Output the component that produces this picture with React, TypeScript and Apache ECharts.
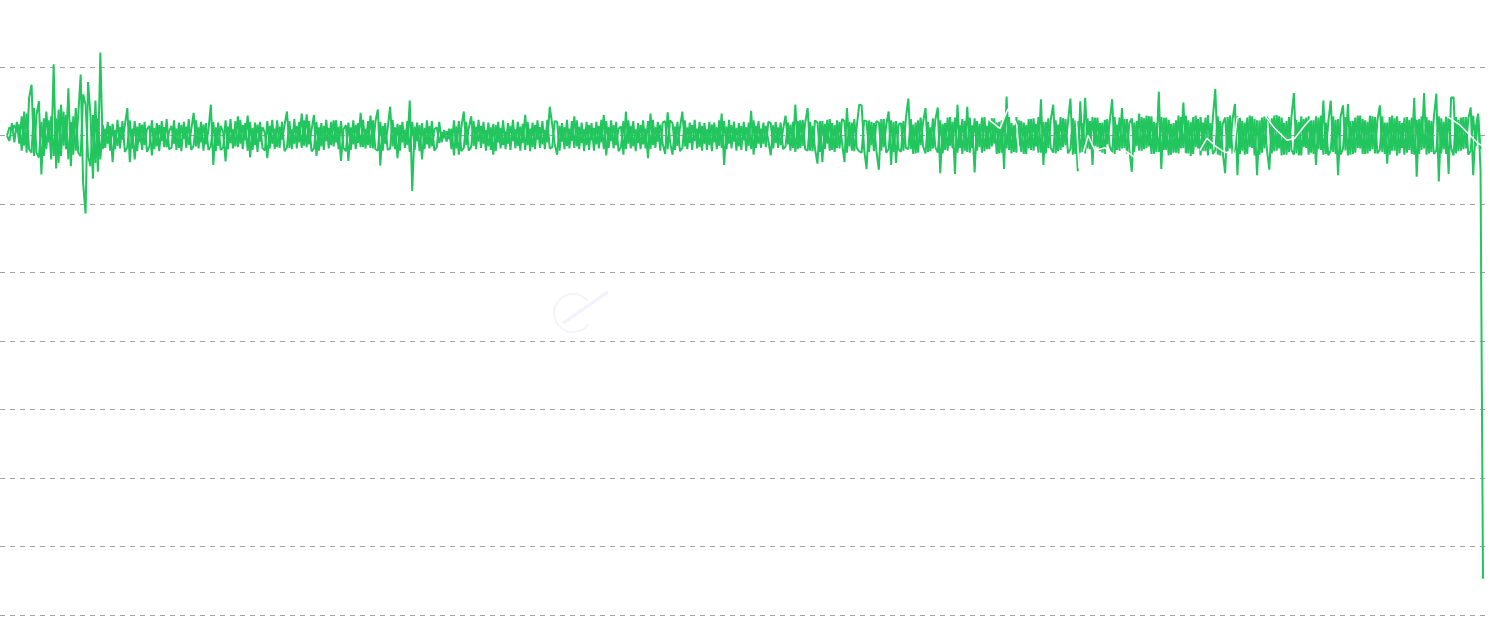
import React, { useEffect, useRef } from "react";
import * as echarts from "echarts";

// Green series, read segment by segment from left to right.
// segX = one trace of each step, segXb = the opposite swing read at the same step.
const segA = [
  0.0, 0.12, 0.08, 0.15, 0.05, 0.16, -0.22, 0.35, -0.25, 0.55,
  0.74, -0.3, 0.3, 0.5, -0.57, 0.25, -0.2, 0.22, -0.35, 1.04,
  -0.48, 0.38, -0.3, 0.35, -0.2, 0.69, -0.45, 0.28, -0.22, 0.3,
  0.89, -0.7, -1.14, 0.78, 0.3, -0.63, 0.51, -0.53, 1.21, -0.2,
];
const segAb = [
  0.0, -0.08, 0.18, -0.1, 0.2, -0.12, 0.28, -0.15, 0.32, -0.2,
  -0.25, 0.4, -0.25, -0.32, 0.2, -0.3, 0.35, -0.1, 0.28, -0.3,
  0.25, -0.4, 0.45, -0.15, 0.3, -0.35, 0.2, -0.28, 0.4, -0.25,
  -0.3, 0.6, 0.45, -0.3, -0.45, 0.3, -0.4, 0.25, -0.35, 0.15,
];
const segB = [
  0.1, -0.12, 0.14, -0.39, 0.08, -0.15, 0.12, -0.06, 0.15, 0.4,
  -0.39, 0.1, -0.35, 0.13, -0.1, 0.16, -0.14, 0.09, 0.14, -0.29,
  0.11, -0.16, 0.15, -0.08, 0.12, -0.17, 0.06, 0.14, -0.12, 0.1,
  -0.18, 0.15, -0.05, 0.13, -0.14, 0.08, 0.33, -0.16, 0.12, -0.1,
  0.16, -0.13, 0.07, 0.45, -0.43, 0.12, -0.15, 0.14, 0.05, -0.38,
  0.13, -0.11, 0.09, -0.16, 0.28, -0.12, 0.15, -0.07, 0.29, -0.32,
  0.11, -0.14, 0.16, -0.09, 0.12, 0.04, -0.33, 0.14, -0.12, 0.1,
  -0.17, 0.13, -0.06, 0.15, 0.35, -0.18, 0.09, -0.12, 0.14, -0.1,
  0.32, -0.15, 0.31, -0.13, 0.08, 0.3, -0.3, 0.12, -0.16, 0.14,
  -0.08, 0.11, -0.14, 0.22, -0.1, 0.13, -0.37, 0.09, 0.15, -0.37,
  0.12, -0.13, 0.16, -0.11, 0.33, -0.17, 0.1, -0.14, 0.29, -0.19,
  0.2, 0.38,
];
const segBb = [
  -0.18, 0.2, -0.22, 0.17, -0.2, 0.23, -0.19, 0.21, -0.24, -0.17,
  0.22, -0.19, 0.21, -0.23, 0.18, -0.21, 0.2, -0.24, -0.16, 0.22,
  -0.2, 0.18, -0.23, 0.21, -0.17, 0.24, -0.2, -0.18, 0.22, -0.21,
  0.19, -0.23, 0.2, -0.18, 0.24, -0.21, -0.15, 0.22, -0.19, 0.2,
  -0.22, 0.18, -0.21, -0.16, 0.2, -0.23, 0.19, -0.21, -0.18, 0.22,
  -0.2, 0.24, -0.19, 0.21, -0.17, 0.23, -0.2, 0.18, -0.22, 0.2,
  -0.21, 0.19, -0.24, 0.2, -0.18, -0.22, 0.21, -0.19, 0.23, -0.2,
  0.22, -0.18, 0.2, -0.23, -0.17, 0.21, -0.2, 0.24, -0.19, 0.2,
  -0.18, 0.22, -0.17, 0.21, -0.23, -0.19, 0.2, -0.22, 0.18, -0.21,
  0.23, -0.19, 0.2, -0.16, 0.22, -0.2, 0.21, -0.18, -0.23, 0.19,
  -0.21, 0.22, -0.2, 0.18, -0.17, 0.23, -0.19, 0.21, -0.18, 0.22,
  -0.2, -0.22,
];
const segC = [
  -0.44, 0.14, -0.12, 0.1, 0.42, -0.16, 0.12, -0.33, 0.15, -0.1,
  0.08, -0.14, 0.51, -0.81, 0.13, -0.08, 0.15, -0.35, 0.11, -0.13,
  0.14, -0.16, 0.09, 0.12, -0.11, 0.05, -0.04, 0.06, -0.05, 0.1,
  -0.29, 0.13, -0.28, 0.12, 0.35, -0.14, 0.1, 0.28, -0.15, 0.13,
  -0.09, 0.14, -0.12, 0.08, -0.16, 0.12, -0.28, 0.15, -0.1, 0.11,
  -0.14, 0.06, -0.12, 0.14, -0.08, 0.09, -0.15, 0.13, -0.11, 0.3,
  -0.14, 0.1, -0.17, 0.15, -0.06, 0.12, -0.13, 0.08, -0.1, 0.42,
  0.16, -0.12, -0.28, 0.14, -0.09, 0.12, -0.15, 0.1, -0.08, 0.28,
  -0.16, 0.13, -0.11, 0.09, -0.14, 0.15, -0.07, 0.11, -0.13, 0.14,
  -0.1, 0.3, -0.29, 0.12, -0.08, 0.15, -0.14, 0.1, 0.13, -0.28,
  0.35, -0.12, 0.14, -0.16, 0.09, -0.11, 0.15, -0.13, 0.1, -0.33,
  0.32, -0.14, 0.12, -0.09, 0.16, -0.12, -0.27, 0.34, -0.1, -0.28,
  0.13, -0.15, 0.11, 0.35, -0.16, 0.12, -0.11, 0.15, -0.08, 0.1,
  -0.17, 0.14, -0.12, 0.09, -0.14, 0.16, -0.1, 0.12, -0.15, 0.32,
  -0.43, 0.13, -0.12, 0.15, -0.09, 0.11, -0.16, 0.14, -0.07, 0.12,
  -0.15, 0.36, -0.28, 0.14, -0.12,
];
const segCb = [
  0.2, -0.22, 0.18, -0.21, -0.19, 0.23, -0.2, 0.17, -0.22, 0.2,
  -0.18, 0.21, -0.24, 0.2, -0.21, 0.19, -0.23, 0.18, -0.2, 0.22,
  -0.19, 0.21, -0.22, -0.17, 0.2, -0.1, 0.08, -0.09, 0.1, -0.2,
  0.22, -0.19, 0.21, -0.23, -0.18, 0.2, -0.22, -0.17, 0.21, -0.2,
  0.23, -0.18, 0.2, -0.22, 0.19, -0.21, 0.17, -0.23, 0.2, -0.19,
  0.22, -0.2, 0.18, -0.21, 0.23, -0.19, 0.2, -0.22, 0.17, -0.21,
  0.2, -0.23, 0.19, -0.2, 0.22, -0.18, 0.21, -0.2, 0.23, -0.19,
  -0.17, 0.21, 0.2, -0.22, 0.18, -0.2, 0.23, -0.19, 0.21, -0.18,
  0.22, -0.2, 0.19, -0.23, 0.2, -0.21, 0.18, -0.22, 0.2, -0.19,
  0.23, -0.2, 0.21, -0.18, 0.22, -0.19, 0.2, -0.23, -0.17, 0.21,
  -0.2, 0.22, -0.19, 0.21, -0.23, 0.18, -0.2, 0.22, -0.19, 0.21,
  -0.2, 0.23, -0.18, 0.2, -0.22, 0.19, 0.21, -0.2, 0.22, 0.18,
  -0.21, 0.2, -0.23, -0.18, 0.22, -0.2, 0.19, -0.21, 0.23, -0.19,
  0.2, -0.22, 0.18, -0.21, 0.2, -0.23, 0.19, -0.2, 0.22, -0.18,
  0.21, -0.2, 0.23, -0.19, 0.2, -0.22, 0.18, -0.21, 0.2, -0.23,
  0.19, -0.2, 0.22, -0.18, 0.21,
];
const segD = [
  0.1, -0.12, 0.14, -0.08, -0.29, 0.15, -0.11, 0.12, -0.14, 0.09,
  0.29, -0.13, 0.16, -0.18, 0.45, -0.2, 0.22, -0.15, 0.18, 0.4,
  -0.22, 0.14, -0.19, -0.41, 0.21, -0.39, 0.17, -0.12, 0.24, -0.21,
  0.15, -0.18, 0.2, -0.1, -0.39, 0.4, -0.16, 0.19, -0.23, 0.13,
  0.45, 0.44, -0.2, -0.49, 0.22, -0.14, 0.18, -0.22, -0.5, 0.24,
  -0.17, 0.15, 0.35, -0.43, 0.2, -0.4, 0.16,
];
const segDb = [
  -0.18, 0.19, -0.17, 0.2, 0.18, -0.19, 0.2, -0.18, 0.19, -0.2,
  -0.16, 0.19, -0.22, 0.2, -0.24, 0.21, -0.18, 0.23, -0.2, -0.22,
  0.2, -0.23, 0.22, 0.19, -0.24, 0.21, -0.2, 0.23, -0.22, 0.18,
  -0.24, 0.22, -0.19, 0.24, 0.21, -0.25, 0.2, -0.22, 0.24, -0.18,
  -0.23, -0.25, 0.22, 0.21, -0.24, 0.2, -0.23, 0.21, 0.19, -0.22,
  0.24, -0.25, -0.2, 0.22, -0.24, 0.21, -0.2,
];
const segE = [
  0.18, -0.22, 0.25, 0.54, -0.2, 0.16, -0.26, 0.22, -0.14, 0.19,
  0.4, -0.24, 0.12, -0.19, 0.23, 0.41, -0.55, 0.17, -0.21, 0.26,
  -0.15, 0.2, -0.56, 0.45, -0.18, 0.24, -0.22, 0.42, -0.25, 0.15,
  -0.54, 0.21, -0.17, 0.26, -0.23, 0.14, -0.2, 0.25, -0.12, 0.19,
  -0.26, 0.22, -0.49, 0.57, -0.21, 0.18, -0.24, 0.27, -0.16, 0.21,
  -0.27, 0.15, -0.19, 0.24, -0.22, 0.17, -0.25, 0.53, -0.43, 0.2,
  -0.18, 0.23, 0.45, -0.26, 0.16, -0.21, 0.25, -0.14, 0.19, 0.54,
  -0.28, 0.22, -0.52, 0.5, -0.24, 0.55, -0.19, 0.21, -0.43, 0.26,
  -0.17, 0.18, -0.25, 0.23, -0.13, 0.2, 0.53, -0.27, 0.16, -0.22,
  0.4, -0.18, 0.24, -0.21, -0.53, 0.19, -0.15, 0.32,
];
const segEb = [
  -0.24, 0.21, -0.18, -0.2, 0.24, -0.27, 0.19, -0.25, 0.26, -0.16,
  -0.26, 0.2, -0.23, 0.25, -0.17, -0.25, 0.22, -0.26, 0.18, -0.22,
  0.27, -0.19, 0.26, -0.25, 0.15, -0.27, 0.21, -0.24, 0.26, -0.18,
  0.25, -0.22, 0.17, -0.25, 0.27, -0.2, 0.23, -0.16, 0.25, -0.27,
  0.2, -0.25, 0.26, -0.19, 0.27, -0.26, 0.15, -0.25, 0.22, -0.24,
  0.19, -0.27, 0.24, -0.21, 0.25, -0.16, 0.27, -0.25, 0.2, -0.26,
  0.25, -0.18, -0.25, 0.22, -0.23, 0.27, -0.17, 0.24, -0.26, -0.2,
  0.25, -0.27, 0.21, -0.25, 0.18, -0.26, 0.25, -0.2, 0.27, -0.15,
  0.26, -0.23, 0.19, -0.27, 0.24, -0.16, -0.25, 0.27, -0.21, 0.26,
  -0.19, 0.24, -0.26, 0.18, 0.25, -0.24, 0.21, -0.22,
];
const segF = [
  -0.22, 0.25, -0.18, 0.28, -0.27, 0.2, -0.24, 0.64, -0.49, 0.26,
  -0.21, 0.23, -0.28, 0.18, -0.25, 0.29, -0.19, 0.48, -0.26, 0.22,
  -0.3, 0.27, -0.17, 0.24, -0.29, 0.19, -0.23, 0.3, -0.2, 0.25,
  0.68, -0.28, 0.21, -0.24, -0.55, 0.27, -0.19, 0.23, 0.46, -0.58,
  0.26, -0.22, 0.19, -0.27, 0.29, -0.18, 0.24, -0.58, 0.22, -0.25,
  0.28, -0.2, -0.5, 0.25, -0.23, 0.3, -0.19, 0.26, -0.28, 0.21,
  -0.24, 0.27, 0.62, -0.26, 0.2, -0.29, 0.24, -0.18, 0.28, -0.25,
  0.22, -0.43, 0.26, -0.21, 0.51, -0.27, 0.19, 0.51, -0.24, 0.23,
  -0.58, 0.27, 0.44, -0.22, 0.46, -0.28, 0.21, -0.25, 0.29, -0.19,
  0.24, -0.27, 0.2, -0.23, 0.28, -0.26, 0.22, 0.44, -0.24, 0.19,
  -0.41, 0.27, -0.22, 0.25, -0.29, 0.21, -0.18, 0.26, -0.25, 0.23,
  -0.27, 0.55, -0.6, 0.24, -0.21, 0.62, -0.28, 0.22, -0.24, 0.27,
  0.61, -0.67, 0.25, -0.2, 0.29, -0.56, 0.55, 0.56, -0.26, 0.23,
  -0.22, 0.27, -0.19, 0.24, 0.41, -0.58, 0.1, 0.32, -0.51, -6.47,
];
const segFb = [
  0.27, -0.2, 0.29, -0.16, 0.28, -0.27, 0.18, -0.24, 0.27, -0.21,
  0.26, -0.29, 0.17, -0.25, 0.22, -0.26, 0.27, -0.18, 0.29, -0.26,
  0.2, -0.27, 0.29, -0.19, 0.27, -0.22, 0.26, -0.29, 0.18, -0.27,
  -0.21, 0.28, -0.29, 0.17, 0.26, -0.23, 0.29, -0.27, -0.2, 0.28,
  -0.27, 0.21, -0.28, 0.26, -0.17, 0.28, -0.29, 0.22, -0.28, 0.26,
  -0.19, 0.27, 0.2, -0.26, 0.29, -0.22, 0.28, -0.29, 0.18, -0.28,
  0.27, -0.21, -0.28, 0.23, -0.29, 0.28, -0.17, 0.26, -0.28, 0.22,
  -0.27, 0.28, -0.2, 0.29, -0.28, 0.19, -0.29, -0.22, 0.28, -0.27,
  0.24, -0.28, -0.19, 0.27, -0.29, 0.21, -0.27, 0.26, -0.18, 0.29,
  -0.27, 0.22, -0.26, 0.29, -0.2, 0.27, -0.26, -0.21, 0.28, -0.27,
  0.19, -0.28, 0.29, -0.22, 0.28, -0.26, 0.18, -0.28, 0.27, -0.21,
  0.26, -0.28, 0.23, -0.27, 0.28, -0.19, 0.27, -0.26, 0.21, -0.27,
  -0.22, 0.28, -0.26, 0.2, -0.27, 0.28, -0.18, -0.29, 0.27, -0.23,
  0.26, -0.2, 0.27, -0.28, -0.22, 0.29, -0.16, 0.28, -0.2,
];

// White trend line (only visible where it crosses the green band); null = break
const whiteIdx = [
  397.4, 400.2, 404.3, 406.4, 407.6, 409.6, 411.2, 412.1, 413,
  435.3, 436.5, 440.2, 443.0, 447.1, 451.1, 455.2, 460.1, 461,
  485.7, 488.6, 491.9, 494.7, 499.2, 500.8, 507.3, 512.2, 516.3, 521.2, 524.4, 528.5, 533.4, 534,
  583.5, 587.6, 591.7, 595.8, 599.1, 601.1,
];
const whiteVal = [
  0.32, 0.22, 0.1, 0.29, 0.39, 0.28, 0.15, -0.29, null,
  0.32, -0.48, 0.0, -0.22, -0.18, -0.29, -0.22, -0.34, null,
  -0.22, -0.04, -0.15, -0.22, -0.29, 0.25, 0.39, 0.29, 0.1, -0.07, -0.04, 0.15, 0.34, null,
  0.34, 0.25, 0.15, 0.0, -0.12, -0.15,
];

const yTicks = { min: -7, max: 1, interval: 1 };

const segments: [number[], number[]][] = [
  [segA, segAb],
  [segB, segBb],
  [segC, segCb],
  [segD, segDb],
  [segE, segEb],
  [segF, segFb],
];

function buildData() {
  const main: [number, number][] = [];
  const second: [number, number][] = [];
  let offset = 0;
  for (const [a, b] of segments) {
    a.forEach((v, k) => main.push([offset + k, v]));
    b.forEach((v, k) => second.push([offset + k, v]));
    offset += a.length;
  }
  return { main, second, n: offset };
}

export default function App() {
  const ref = useRef<HTMLDivElement>(null);
  useEffect(() => {
    if (!ref.current) return;
    const chart = echarts.init(ref.current, null, { renderer: "svg" });
    const { main, second, n } = buildData();
    const plotW = 1490 - 3;
    const s = (1483 - 7) / (n - 1);
    const xMin = -7 / s;
    const xMax = n - 1 + (plotW - 1483) / s;
    const green = "#22c55e";
    chart.setOption({
      animation: false,
      backgroundColor: "#ffffff",
      grid: { left: 0, right: 3, top: 67, bottom: 18, containLabel: false },
      xAxis: { type: "value", min: xMin, max: xMax, show: false },
      yAxis: {
        type: "value",
        min: yTicks.min,
        max: yTicks.max,
        interval: yTicks.interval,
        axisLine: { show: false },
        axisTick: { show: false },
        axisLabel: { show: false },
        splitLine: { lineStyle: { type: [5, 5], color: "#a3a3a3", width: 1 } },
      },
      graphic: [
        {
          type: "arc",
          shape: { cx: 573, cy: 313, r: 19, startAngle: 0.6, endAngle: 5.6 },
          style: { stroke: "#f4f4f8", lineWidth: 2, fill: "none" },
          silent: true,
        },
        {
          type: "line",
          shape: { x1: 563, y1: 323, x2: 608, y2: 292 },
          style: { stroke: "#f4f0fc", lineWidth: 3 },
          silent: true,
        },
      ],
      series: [
        {
          type: "line",
          data: second,
          symbol: "none",
          clip: false,
          lineStyle: { color: green, width: 2 },
          z: 2,
        },
        {
          type: "line",
          data: main,
          symbol: "none",
          clip: false,
          lineStyle: { color: green, width: 2 },
          z: 2,
        },
        {
          type: "line",
          data: whiteIdx.map((x, i) => [x, whiteVal[i]]),
          symbol: "none",
          connectNulls: false,
          clip: false,
          lineStyle: { color: "#ffffff", width: 1.5 },
          z: 3,
        },
      ],
    });
    return () => chart.dispose();
  }, []);
  return (
    <div
      ref={ref}
      style={{ position: "fixed", left: 0, top: 0, width: 1490, height: 633 }}
    />
  );
}
